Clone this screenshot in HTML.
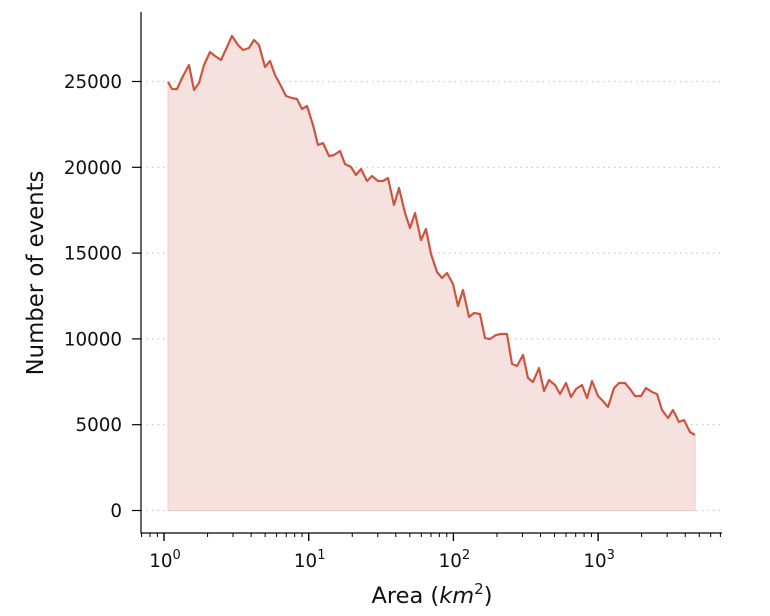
<!DOCTYPE html>
<html><head><meta charset="utf-8"><style>
html,body{margin:0;padding:0;background:#fff;}
svg{display:block;font-family:"DejaVu Sans","Liberation Sans",sans-serif;}
</style></head><body>
<svg id="s" width="770" height="616" viewBox="0 0 770 616" xmlns="http://www.w3.org/2000/svg">
<g id="grid" stroke="#c8c8c8" stroke-width="1.2" stroke-dasharray="1.5,4"></g>
<polygon id="fill" fill="#f5e1de" stroke="#eccbc6" stroke-width="1"></polygon>
<polyline id="line" fill="none" stroke="#cd5540" stroke-width="2.2" stroke-linejoin="round"></polyline>
<g id="axes" stroke="#000" stroke-width="1.2"></g>
<g id="labels" font-size="18.3" fill="#111"></g>
<text x="432" y="603" font-size="22.5" text-anchor="middle" fill="#111">Area (<tspan font-style="italic">km</tspan><tspan font-size="15" dy="-9">2</tspan><tspan dy="9">)</tspan></text>
<text transform="translate(43,273) rotate(-90)" font-size="22.8" text-anchor="middle" fill="#111">Number of events</text>
</svg>
<script>
var pts=[[168,82],[172,89],[177,89],[183,76],[189,65],[194,90],[199,83],[204,65],[210,52],[215,56],[221,60],[227,47],[232,36],[238,45],[243,50],[249,48],[254,40],[259,45],[265,67],[270,61],[275,75],[281,86],[286,96],[292,98],[297,99],[302,109],[307,106],[313,125],[318,145],[323,143],[329,156],[334,155],[340,151],[345,164],[351,167],[356,175],[361,169],[367,181],[372,176],[378,181],[383,181],[388,178],[394,205],[399,188],[405,213],[410,228],[415,213],[421,240],[426,229],[431,254],[437,272],[442,278],[447,273],[453,284],[458,306],[463,290],[469,317],[474,313],[480,314],[485,338],[490,339],[496,335],[501,334],[507,334],[512,364],[517,366],[523,355],[528,378],[533,382],[539,368],[544,391],[549,380],[555,385],[560,394],[566,383],[571,397],[576,389],[582,385],[587,398],[592,381],[598,396],[603,401],[608,407],[614,388],[619,383],[625,383],[630,389],[635,396],[641,396],[646,388],[652,392],[657,394],[662,410],[668,418],[673,410],[679,422],[684,420],[690,432],[695,435]];
var s=pts.map(p=>p.join(',')).join(' ');
document.getElementById('line').setAttribute('points',s);
document.getElementById('fill').setAttribute('points','168,510.5 '+s+' 695,510.5');
var NS="http://www.w3.org/2000/svg";
function el(p,t,a,txt){var e=document.createElementNS(NS,t);for(var k in a)e.setAttribute(k,a[k]);if(txt!=null)e.textContent=txt;document.getElementById(p).appendChild(e);return e;}
for(var i=0;i<=5;i++){var y=510.5-i*85.8;
 el('grid','line',{x1:141,x2:722,y1:y,y2:y});
 el('axes','line',{x1:132,x2:141,y1:y,y2:y});
 el('labels','text',{x:122,y:y+6.5,'text-anchor':'end'},String(i*5000));}
el('axes','line',{x1:141,x2:141,y1:12,y2:533.5});
el('axes','line',{x1:140.4,x2:722,y1:533,y2:533});
var x0=164,dec=144.7;
for(var d=-1;d<=3;d++){for(var k=1;k<10;k++){var x=x0+dec*(d+Math.log10(k));if(x<141||x>722)continue;
 var major=(k==1);el('axes','line',{x1:x,x2:x,y1:533,y2:major?541:537,'stroke-width':major?1.4:1});}}
for(var d=0;d<=3;d++){var x=x0+dec*d;var t=el('labels','text',{x:x+1,y:567,'text-anchor':'middle'});
 t.textContent='10';var ts=document.createElementNS(NS,'tspan');ts.setAttribute('font-size','13');ts.setAttribute('dy','-8');ts.textContent=String(d);t.appendChild(ts);}
</script>
</body></html>
